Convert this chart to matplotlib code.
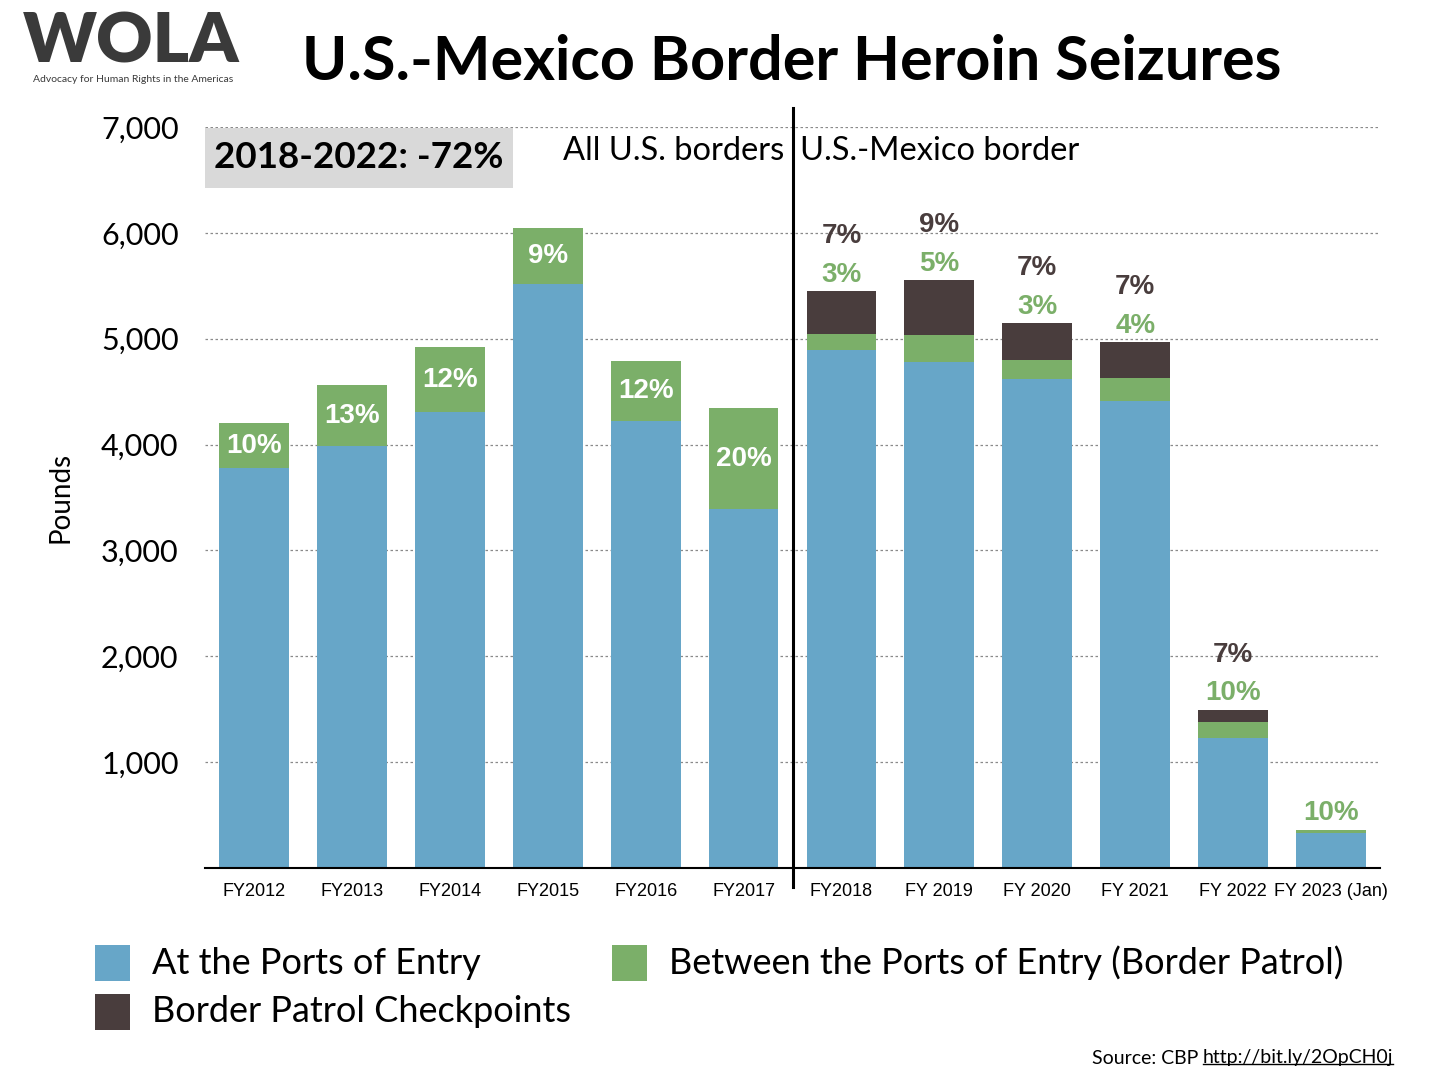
import matplotlib
matplotlib.use('Agg')
import matplotlib.pyplot as plt
from matplotlib.patches import Rectangle
import numpy as np

# data (pounds)
years = ['FY2012', 'FY2013', 'FY2014', 'FY2015', 'FY2016', 'FY2017',
         'FY2018', 'FY 2019', 'FY 2020', 'FY 2021', 'FY 2022', 'FY 2023 (Jan)']
ports = [3780, 3985, 4306, 5520, 4220, 3390, 4891, 4778, 4615, 4410, 1228, 330]
between = [422, 576, 614, 523, 568, 954, 151, 255, 182, 217, 151, 29]
checkpoints = [0, 0, 0, 0, 0, 0, 407, 519, 349, 340, 113, 0]
pct_between = ['10%', '13%', '12%', '9%', '12%', '20%', '3%', '5%', '3%', '4%', '10%', '10%']
pct_check = ['', '', '', '', '', '', '7%', '9%', '7%', '7%', '7%', '']

c_blue = '#67a6c8'
c_green = '#7baf69'
c_dark = '#493d3d'
sans = 'Lato'
helv = 'Liberation Sans'

fig = plt.figure(figsize=(14.4, 10.8), dpi=100)
ax = fig.add_axes([205/1440, 1-868/1080, 1175/1440, 741/1080])

x = np.arange(len(years))
w = 0.714
ports = np.array(ports)
between = np.array(between)
checkpoints = np.array(checkpoints)
ax.bar(x, ports, w, color=c_blue, zorder=2)
ax.bar(x, between, w, bottom=ports, color=c_green, zorder=2)
ax.bar(x, checkpoints, w, bottom=ports + between, color=c_dark, zorder=2)

ax.set_xlim(-0.5, 11.5)
ax.set_ylim(0, 7000)
ax.set_yticks(range(1000, 8000, 1000))
ax.set_yticklabels([f'{v:,}' for v in range(1000, 8000, 1000)],
                   fontsize=22, family=sans)
ax.set_xticks(x)
ax.set_xticklabels(years, fontsize=13, family=helv)
ax.tick_params(axis='both', length=0)
ax.tick_params(axis='y', pad=19)
ax.tick_params(axis='x', pad=11)
for s in ['top', 'right', 'left']:
    ax.spines[s].set_visible(False)
ax.spines['bottom'].set_linewidth(1.5)
ax.yaxis.grid(True, color='#8a8a8a', linestyle=(0, (2, 2)), linewidth=0.9, zorder=0)
ax.set_axisbelow(True)
ax.set_ylabel('Pounds', fontsize=20, family=sans, labelpad=20)

# percent labels
for i in range(len(years)):
    top = ports[i] + between[i] + checkpoints[i]
    if i < 6:
        ax.text(x[i], ports[i] + between[i] / 2, pct_between[i], ha='center', va='center',
                fontsize=20, fontweight='bold', color='white', family=helv, zorder=3)
    else:
        ax.annotate(pct_between[i], (x[i], top), xytext=(0, 12), textcoords='offset points',
                    ha='center', va='center', fontsize=20, fontweight='bold',
                    color=c_green, family=helv)
        if pct_check[i]:
            ax.annotate(pct_check[i], (x[i], top), xytext=(0, 40), textcoords='offset points',
                        ha='center', va='center', fontsize=20, fontweight='bold',
                        color=c_dark, family=helv)

# divider between all borders and US-Mexico border
ax.plot([5.5, 5.5], [-180, 7180], color='black', linewidth=2.2, clip_on=False, zorder=4)
ax.text(5.42, 6770, 'All U.S. borders', ha='right', va='center', fontsize=23.5, family=sans)
ax.text(5.58, 6770, 'U.S.-Mexico border', ha='left', va='center', fontsize=23.5, family=sans)

# change box
fig.add_artist(Rectangle((205/1440, 1-188/1080), 308/1440, 60/1080,
                         transform=fig.transFigure, facecolor='#d9d9d9', edgecolor='none'))
fig.text(359/1440, 1-158/1080, '2018-2022: -72%', ha='center', va='center',
         fontsize=26.5, fontweight='bold', family=sans)

# title and logo
fig.text(792/1440, 1-62/1080, 'U.S.-Mexico Border Heroin Seizures', ha='center', va='center',
         fontsize=44, fontweight='bold', family=sans)
fig.text(131/1440, 1-43/1080, 'WOLA', ha='center', va='center', fontsize=50,
         fontweight='heavy', family=sans, color='#3a3a3a')
fig.text(133/1440, 1-79/1080, 'Advocacy for Human Rights in the Americas', ha='center',
         va='center', fontsize=7.5, family=sans, color='#3a3a3a')

# legend
legend_items = [(c_blue, 'At the Ports of Entry', 95, 963),
                (c_green, 'Between the Ports of Entry (Border Patrol)', 612, 963),
                (c_dark, 'Border Patrol Checkpoints', 95, 1012)]
for col, lab, px, py in legend_items:
    fig.add_artist(Rectangle((px/1440, 1-(py+18)/1080), 35/1440, 36/1080,
                             transform=fig.transFigure, facecolor=col, edgecolor='none'))
    fig.text((px+57)/1440, 1-py/1080, lab, ha='left', va='center', fontsize=26, family=sans)

# source line
url = fig.text(1393/1440, 1-1058/1080, 'http://bit.ly/2OpCH0j', ha='right', va='center',
               fontsize=14, family=sans)
fig.canvas.draw()
bb = url.get_window_extent().transformed(fig.transFigure.inverted())
fig.add_artist(plt.Line2D([bb.x0, bb.x1], [bb.y0 + 0.002, bb.y0 + 0.002],
                          transform=fig.transFigure, color='black', linewidth=1))
fig.text(bb.x0 - 4/1440, 1-1058/1080, 'Source: CBP', ha='right', va='center',
         fontsize=14, family=sans)

fig.savefig('out.png', dpi=100, facecolor='white')
